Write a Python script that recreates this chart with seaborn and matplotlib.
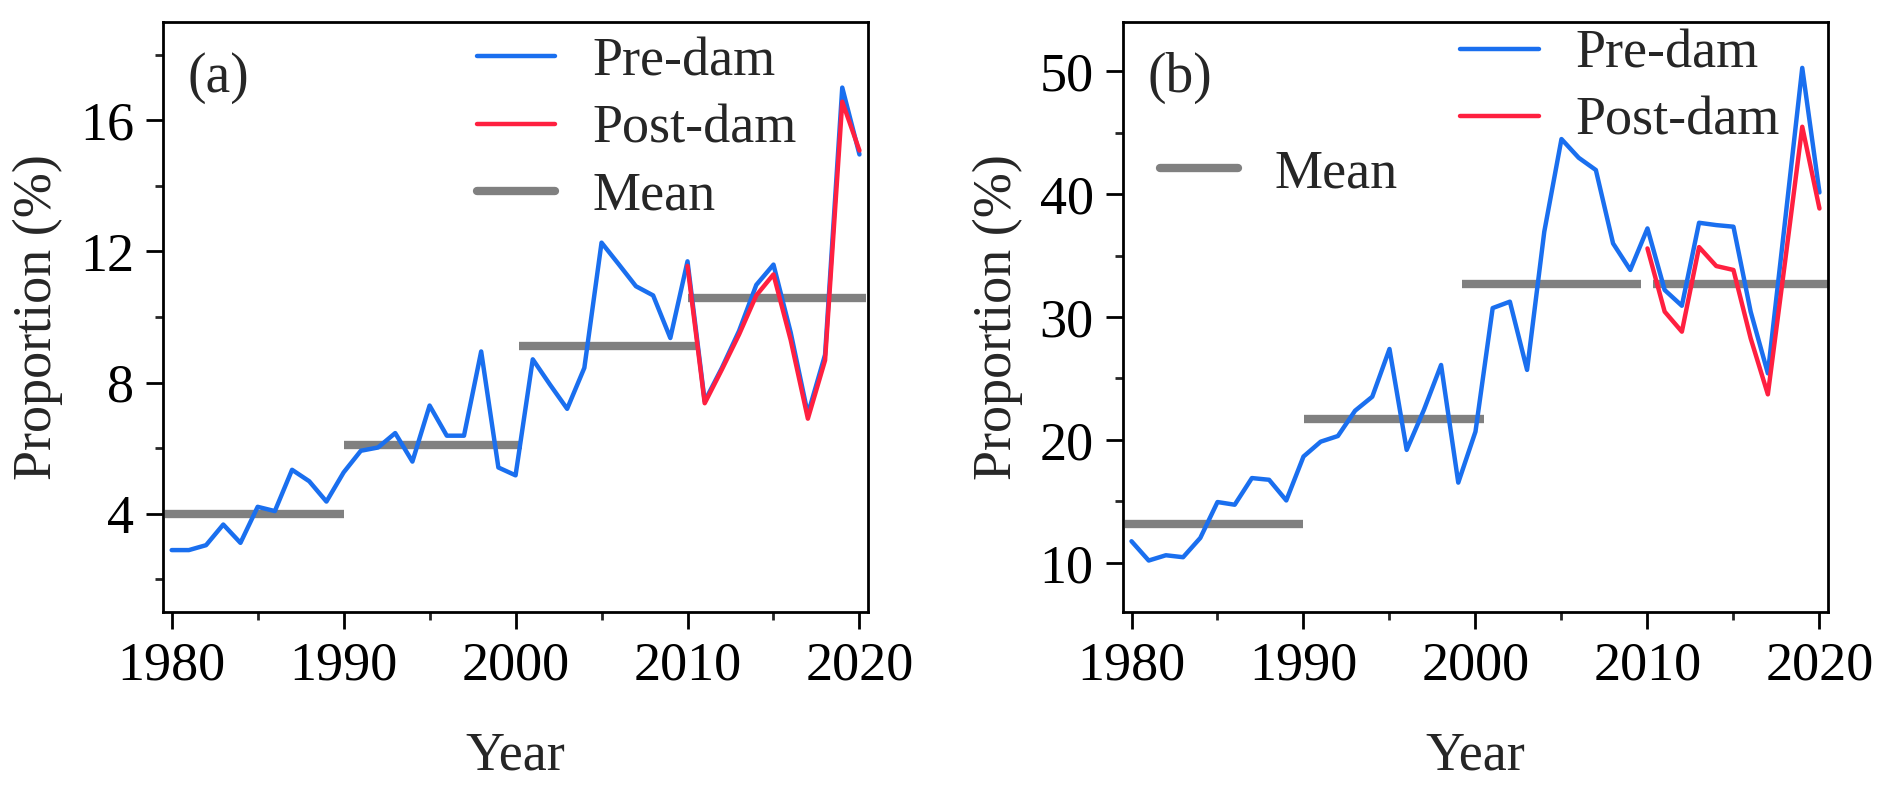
import numpy as np
import pandas as pd
import matplotlib
matplotlib.use("Agg")
import matplotlib.pyplot as plt
from matplotlib.ticker import MultipleLocator
from matplotlib.lines import Line2D
import seaborn as sns

# Data
years = list(range(1980, 2021))
post_years = list(range(2010, 2021))

pre_a = [2.89, 2.89, 3.04, 3.67, 3.11, 4.21, 4.08, 5.34, 4.99, 4.37,
         5.26, 5.92, 6.02, 6.46, 5.59, 7.30, 6.38, 6.38, 8.95, 5.41,
         5.17, 8.71, 7.94, 7.20, 8.45, 12.27, 11.61, 10.94, 10.66, 9.36,
         11.70, 7.43, 8.45, 9.58, 10.98, 11.60, 9.53, 7.04, 8.85, 17.0, 14.96]
post_a = [11.56, 7.37, 8.40, 9.47, 10.66, 11.30, 9.30, 6.90, 8.68, 16.57, 15.08]
mean_a = [3.98, 6.09, 9.11, 10.57]
mean_a_start = [1979.6, 1990.0, 2000.2, 2010.0]
mean_a_end = [1990.0, 2000.35, 2010.6, 2020.4]

pre_b = [11.76, 10.19, 10.62, 10.46, 12.03, 14.95, 14.73, 16.90, 16.76, 15.08,
         18.65, 19.86, 20.32, 22.38, 23.52, 27.40, 19.19, 22.44, 26.10, 16.53,
         20.68, 30.73, 31.25, 25.70, 36.94, 44.48, 42.96, 41.96, 35.99, 33.83,
         37.21, 32.20, 30.92, 37.67, 37.48, 37.35, 30.44, 25.42, 37.80, 50.27, 40.14]
post_b = [35.58, 30.44, 28.81, 35.69, 34.15, 33.83, 28.27, 23.71, 34.50, 45.48, 38.83]
mean_b = [13.16, 21.68, 32.68, 32.70]
mean_b_start = [1979.6, 1990.05, 1999.2, 2010.3]
mean_b_end = [1990.0, 2000.5, 2009.6, 2020.5]

BLUE = "#1a6fef"
RED = "#ff2040"
GRAY = "#808080"
LW = 3.2
MW = 6.0

sns.set_theme(style="ticks")
plt.rcParams["font.family"] = ["Liberation Serif", "DejaVu Serif"]
plt.rcParams["mathtext.fontset"] = "stix"

FS = 39

fig = plt.figure(figsize=(18.92, 7.93), dpi=100)
ax_a = fig.add_axes([0.0862, 0.2282, 0.3726, 0.744])
ax_b = fig.add_axes([0.5935, 0.2282, 0.3727, 0.744])


def draw_panel(ax, pre, post, means, starts, ends, ylim, major, minor, tag):
    ax.hlines(means, starts, ends, color=GRAY, lw=MW, zorder=1)
    sns.lineplot(x=years, y=pre, color=BLUE, linewidth=LW, ax=ax, zorder=2)
    sns.lineplot(x=post_years, y=post, color=RED, linewidth=LW, ax=ax, zorder=3)

    ax.set_xlim(1979.5, 2020.5)
    ax.set_ylim(*ylim)
    ax.set_xticks([1980, 1990, 2000, 2010, 2020])
    ax.xaxis.set_minor_locator(MultipleLocator(5))
    ax.yaxis.set_major_locator(MultipleLocator(major))
    ax.yaxis.set_minor_locator(MultipleLocator(minor))

    ax.tick_params(which="major", direction="out", length=12, width=2.0,
                   labelsize=FS, pad=9, colors="black")
    ax.tick_params(which="minor", direction="out", length=5.5, width=2.0)
    for s in ax.spines.values():
        s.set_linewidth(2.0)
        s.set_color("black")

    ax.set_xlabel("Year", fontsize=FS, labelpad=28)
    ax.set_ylabel("Proportion (%)", fontsize=FS, labelpad=12)
    ax.text(0.035, 0.905, tag, transform=ax.transAxes, fontsize=FS + 1,
            va="center", ha="left")


draw_panel(ax_a, pre_a, post_a, mean_a, mean_a_start, mean_a_end,
           (1, 19), 4, 2, "(a)")
draw_panel(ax_b, pre_b, post_b, mean_b, mean_b_start, mean_b_end,
           (6, 54), 10, 5, "(b)")

h_pre = Line2D([], [], color=BLUE, lw=LW)
h_post = Line2D([], [], color=RED, lw=LW)
h_mean = Line2D([], [], color=GRAY, lw=MW)
leg_kw = dict(frameon=False, fontsize=FS, handlelength=1.45, handletextpad=0.68,
              labelspacing=0.31, borderpad=0, borderaxespad=0, loc="upper left")

ax_a.legend([h_pre, h_post, h_mean], ["Pre-dam", "Post-dam", "Mean"],
            bbox_to_anchor=(0.445, 0.975), **leg_kw)

leg1 = ax_b.legend([h_pre, h_post], ["Pre-dam", "Post-dam"],
                   bbox_to_anchor=(0.478, 0.988), **leg_kw)
ax_b.add_artist(leg1)
ax_b.legend([h_mean], ["Mean"], bbox_to_anchor=(0.052, 0.785), **leg_kw)

fig.savefig("out.png", dpi=100)
